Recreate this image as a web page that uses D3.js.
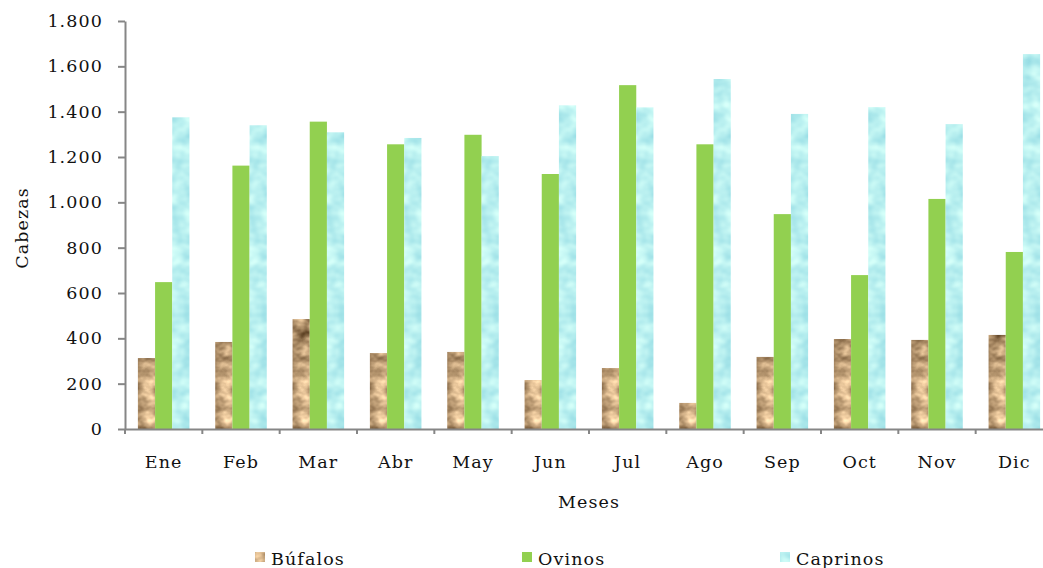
<!DOCTYPE html>
<html><head><meta charset="utf-8">
<script src="https://cdn.jsdelivr.net/npm/d3@7"></script>
<style>
html,body{margin:0;padding:0;background:#fff;}
svg{display:block;font-family:"DejaVu Serif",serif;}
</style></head>
<body>
<svg id="chart" width="1043" height="568"></svg>
<script>
const months = ["Ene","Feb","Mar","Abr","May","Jun","Jul","Ago","Sep","Oct","Nov","Dic"];
const seriesNames = ["Búfalos","Ovinos","Caprinos"];
const bufalos  = [313, 384, 485, 335, 340, 216, 269, 115, 318, 397, 393, 415];
const ovinos   = [648, 1162, 1356, 1256, 1298, 1125, 1517, 1256, 948, 679, 1015, 781];
const caprinos = [1375, 1340, 1309, 1284, 1204, 1428, 1419, 1544, 1390, 1420, 1345, 1654];
const yTicks = [0,200,400,600,800,1000,1200,1400,1600,1800];

(function(){
const svg = d3.select("#chart");
const mL = 125, mR = 1053, mT = 21, mB = 429;
const FS = 17.5, LS = "1.1px";

const defs = svg.append("defs");
// sand texture
const fs = defs.append("filter").attr("id","sand").attr("x","0").attr("y","0").attr("width","1").attr("height","1")
  .attr("color-interpolation-filters","sRGB");
fs.append("feTurbulence").attr("type","fractalNoise").attr("baseFrequency","0.06 0.08").attr("numOctaves",3).attr("seed",11).attr("result","n");
fs.append("feColorMatrix").attr("in","n").attr("type","matrix")
  .attr("values","1.0 0 0 0 0.2  0.95 0 0 0 0.1  0.85 0 0 0 0.0  0 0 0 0 1").attr("result","c");
fs.append("feComposite").attr("in","c").attr("in2","SourceGraphic").attr("operator","in");
// water texture
const fw = defs.append("filter").attr("id","water").attr("x","0").attr("y","0").attr("width","1").attr("height","1")
  .attr("color-interpolation-filters","sRGB");
fw.append("feTurbulence").attr("type","fractalNoise").attr("baseFrequency","0.07 0.09").attr("numOctaves",2).attr("seed",3).attr("result","n");
fw.append("feColorMatrix").attr("in","n").attr("type","matrix")
  .attr("values","0.35 0 0 0 0.55  0.2 0 0 0 0.84  0.12 0 0 0 0.88  0 0 0 0 1").attr("result","c");
fw.append("feComposite").attr("in","c").attr("in2","SourceGraphic").attr("operator","in");

const fills = ["#b08a60","#92d050","#b4e8f2"];
const filters = ["url(#sand)", null, "url(#water)"];

const x = d3.scaleBand().domain(months).range([mL, mR]).paddingInner(0).paddingOuter(0);
const inner = d3.scaleBand().domain(seriesNames).range([0, x.bandwidth()]).paddingOuter(0.75).paddingInner(0);
const y = d3.scaleLinear().domain([0,1800]).range([mB, mT]);

const data = months.map((m,i)=>({m, vals:[bufalos[i], ovinos[i], caprinos[i]]}));

const g = svg.append("g");
const groups = g.selectAll("g.grp").data(data).join("g").attr("class","grp")
  .attr("transform", d=>`translate(${x(d.m)},0)`);
groups.selectAll("rect").data(d=>d.vals.map((v,k)=>({v,k}))).join("rect")
  .attr("x", d=>inner(seriesNames[d.k]))
  .attr("width", inner.bandwidth())
  .attr("y", d=>y(d.v))
  .attr("height", d=>y(0)-y(d.v))
  .attr("fill", d=>fills[d.k])
  .attr("filter", d=>filters[d.k]);

// Y axis
const yAxis = svg.append("g").attr("transform",`translate(${mL},0)`)
  .call(d3.axisLeft(y).tickValues(yTicks).tickSize(7).tickSizeOuter(0).tickPadding(15)
    .tickFormat(d=>d3.format(",")(d).replace(/,/g,".")));
yAxis.select(".domain").attr("stroke","#868686").attr("stroke-width",2);
yAxis.selectAll(".tick line").attr("stroke","#868686").attr("stroke-width",2);
yAxis.selectAll("text").attr("font-size",FS).attr("letter-spacing",LS).attr("fill","#111").attr("font-family","DejaVu Serif");

// X axis
const xAxis = svg.append("g").attr("transform",`translate(0,${mB})`)
  .call(d3.axisBottom(x).tickSize(0).tickSizeOuter(0).tickPadding(27));
xAxis.select(".domain").attr("stroke","#868686").attr("stroke-width",2);
xAxis.selectAll("text").attr("font-size",FS).attr("letter-spacing",LS).attr("fill","#111").attr("font-family","DejaVu Serif");
const bounds = months.map(m=>x(m)).concat([x(months[months.length-1])+x.bandwidth()]);
xAxis.selectAll("line.bt").data(bounds).join("line").attr("class","bt")
  .attr("x1",d=>d).attr("x2",d=>d).attr("y1",0).attr("y2",5)
  .attr("stroke","#868686").attr("stroke-width",2);

// Axis titles
svg.append("text").attr("x",(mL+mR)/2).attr("y",508).attr("text-anchor","middle")
  .attr("font-size",FS).attr("letter-spacing",LS).attr("fill","#111").text("Meses");
svg.append("text").attr("transform","translate(28,228) rotate(-90)").attr("text-anchor","middle")
  .attr("font-size",FS).attr("letter-spacing",LS).attr("fill","#111").text("Cabezas");

// Legend
const legX = [255, 522, 780];
const leg = svg.append("g").selectAll("g").data(seriesNames).join("g")
  .attr("transform",(d,i)=>`translate(${legX[i]},552)`);
leg.append("rect").attr("width",10).attr("height",10)
  .attr("fill",(d,i)=>fills[i]).attr("filter",(d,i)=>filters[i]);
leg.append("text").attr("x",16).attr("y",13).attr("font-size",FS).attr("letter-spacing",LS).attr("fill","#111").text(d=>d);
})();
</script>
</body></html>
